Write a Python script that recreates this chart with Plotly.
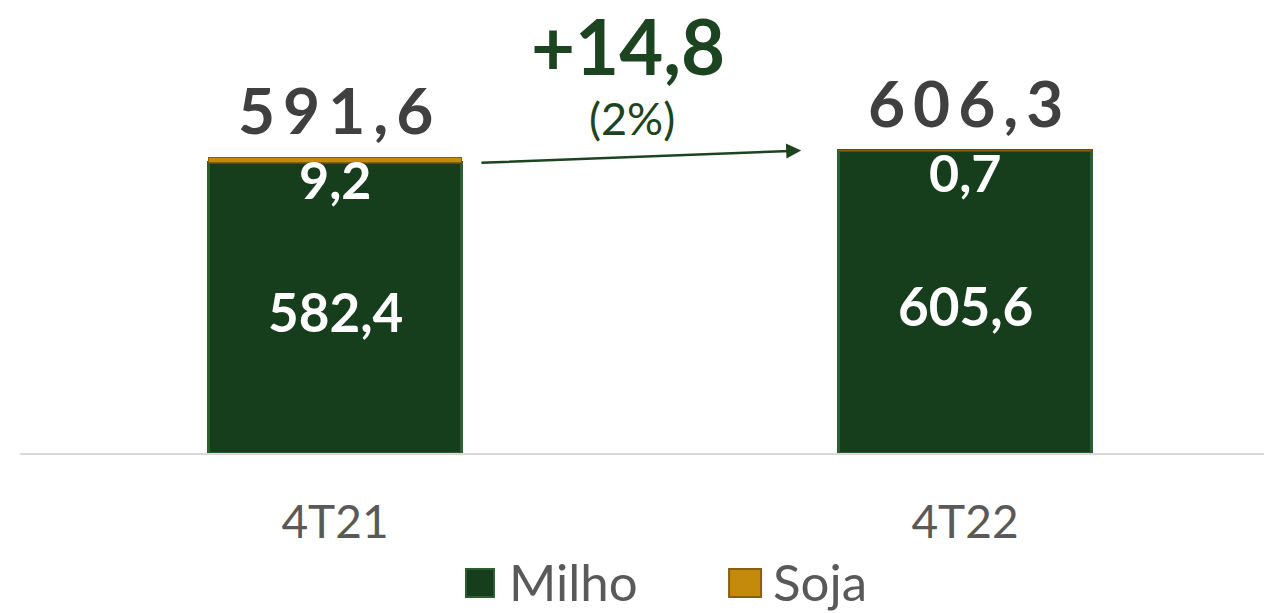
import plotly.graph_objects as go

categories = ["4T21", "4T22"]
milho = [582.4, 605.6]
soja = [9.2, 0.7]
milho_labels = ["582,4", "605,6"]
soja_labels = ["9,2", "0,7"]
total_labels = ["5\u20099\u20091\u2009,\u20096", "6\u20090\u20096\u2009,\u20093"]
delta_label = "+14,8"
delta_pct_label = "(2%)"
series_names = ["Milho", "Soja"]

totals = [m + s for m, s in zip(milho, soja)]

GREEN = "#163d1c"
GREEN_LINE = "#2c5f2f"
GOLD = "#c38a0c"
GOLD_LINE = "#8a5f05"
DARK_GREEN_TXT = "#1d4421"
GRAY_TXT = "#595959"
FONT = "Lato, 'Open Sans', sans-serif"

fig = go.Figure()
fig.add_trace(go.Bar(x=categories, y=milho, name=series_names[0], width=0.403,
                     marker=dict(color=GREEN, line=dict(color=GREEN_LINE, width=3)),
                     showlegend=False, hoverinfo="skip"))
fig.add_trace(go.Bar(x=categories, y=soja, name=series_names[1], width=0.403,
                     marker=dict(color=GOLD, line=dict(color=GOLD_LINE, width=1)),
                     showlegend=False, hoverinfo="skip"))

ann = []
for i in range(len(categories)):
    ann.append(dict(x=i, y=milho[i] / 2, text=milho_labels[i], showarrow=False,
                    font=dict(family=FONT, size=53, color="white", weight="bold"),
                    yanchor="middle", yshift=-4))
    ann.append(dict(x=i, y=totals[i], text=soja_labels[i], showarrow=False,
                    font=dict(family=FONT, size=52, color="white", weight="bold"),
                    yanchor="top", yshift=11, borderpad=0))
    ann.append(dict(x=i, y=totals[i], text=total_labels[i], showarrow=False,
                    font=dict(family=FONT, size=64, color="#404040", weight="bold"),
                    yanchor="bottom", yshift=9, borderpad=0))

ann.append(dict(x=0.5, xref="x", y=0.9, yref="paper", text=delta_label, showarrow=False,
                font=dict(family=FONT, size=76, color=DARK_GREEN_TXT, weight="bold"),
                yanchor="middle", xshift=-22))
ann.append(dict(x=0.5, xref="x", y=0.74, yref="paper", text=delta_pct_label, showarrow=False,
                font=dict(family=FONT, size=45, color=DARK_GREEN_TXT),
                yanchor="middle", xshift=-18))
# arrow between the two totals
ann.append(dict(x=0.74, y=totals[1], ax=0.23, ay=totals[0] - 10, xref="x", yref="y",
                axref="x", ayref="y", text="", showarrow=True, arrowhead=2, arrowsize=1.2,
                arrowwidth=2.5, arrowcolor=DARK_GREEN_TXT))

# manual legend
shapes = []
legend_items = [(series_names[0], GREEN, GREEN_LINE, 0.3585, 0.381, 0.392),
                (series_names[1], GOLD, GOLD_LINE, 0.570, 0.5957, 0.6045)]
for name, col, lcol, x0, x1, tx in legend_items:
    shapes.append(dict(type="rect", xref="paper", yref="paper", x0=x0, x1=x1,
                       y0=-0.318, y1=-0.256, fillcolor=col, line=dict(color=lcol, width=2)))
    ann.append(dict(x=tx, y=-0.283, xref="paper", yref="paper", text=name, showarrow=False,
                    xanchor="left", yanchor="middle", borderpad=0,
                    font=dict(family=FONT, size=51, color=GRAY_TXT)))

fig.update_layout(
    barmode="stack",
    width=1264, height=613,
    margin=dict(l=20, r=0, t=0, b=160),
    paper_bgcolor="white", plot_bgcolor="white",
    showlegend=False,
    annotations=ann,
    shapes=shapes,
    xaxis=dict(range=[-0.5, 1.4746], showline=True, linecolor="#d9d9d9", linewidth=2,
               ticks="outside", ticklen=28, tickcolor="rgba(0,0,0,0)",
               tickfont=dict(family=FONT, size=46, color=GRAY_TXT), showgrid=False),
    yaxis=dict(range=[0, 908], visible=False, showgrid=False, zeroline=False),
)

fig.write_html("out.html", config={"displayModeBar": False},
               post_script="document.body.style.margin='0';document.body.style.overflow='hidden';")
